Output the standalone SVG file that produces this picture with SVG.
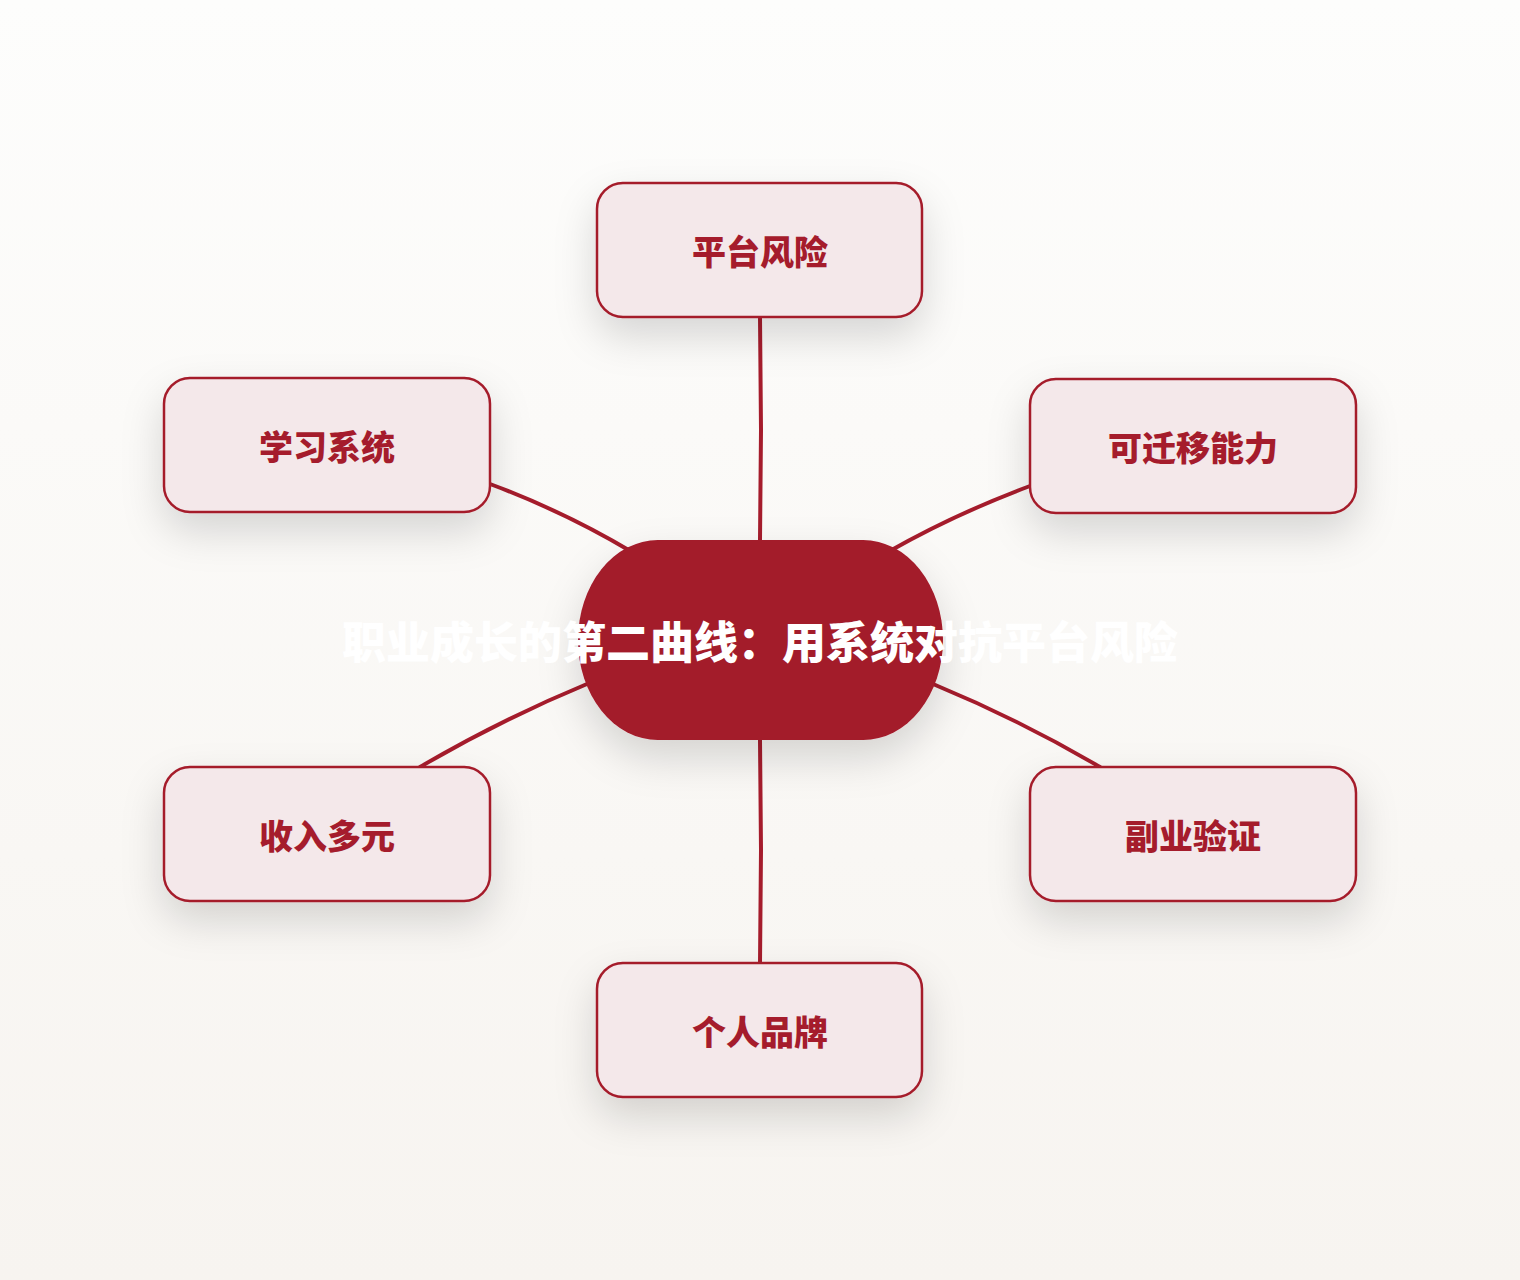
<svg xmlns="http://www.w3.org/2000/svg" width="1520" height="1280" viewBox="0 0 1520 1280">
<defs>
<linearGradient id="bg" x1="0" y1="0" x2="0" y2="1">
<stop offset="0" stop-color="#fdfdfc"/>
<stop offset="1" stop-color="#f7f4f0"/>
</linearGradient>
<filter id="sh" x="-40%" y="-40%" width="180%" height="200%">
<feDropShadow dx="0" dy="18" stdDeviation="20" flood-color="#000" flood-opacity="0.15"/>
</filter>
<style>
.node rect{fill:#f4e8ea;stroke:#a51c2c;stroke-width:2.5;filter:url(#sh)}
.node text{fill:#a51c2c;font-family:"Noto Sans CJK SC","Noto Sans",sans-serif;font-weight:900;font-size:34px;text-anchor:middle;dominant-baseline:central}
.edge{fill:none;stroke:#a51c2c;stroke-width:4;stroke-linecap:round}
</style>
</defs>
<rect width="1520" height="1280" fill="url(#bg)"/>
<g id="connectors">
<path class="edge" d="M760 317 L761 430 L760 540"/>
<path class="edge" d="M760 740 L761 850 L760 963"/>
<path class="edge" d="M490 484 Q565 512 632 552"/>
<path class="edge" d="M1030 486 Q955 514 888 552"/>
<path class="edge" d="M587 684 Q500 720 420 767"/>
<path class="edge" d="M933 684 Q1020 720 1100 767"/>
</g>
<g id="center">
<rect x="578" y="540" width="365" height="200" rx="80" ry="100" fill="#a31a2a" filter="url(#sh)"/>
<text x="760" y="640" fill="#ffffff" font-family="'Noto Sans CJK SC','Noto Sans',sans-serif" font-weight="900" font-size="44" text-anchor="middle" dominant-baseline="central">职业成长的第二曲线：用系统对抗平台风险</text>
</g>
<g id="n1" class="node"><rect x="597" y="183" width="325" height="134" rx="26"/><text x="760" y="250">平台风险</text></g>
<g id="n2" class="node"><rect x="1030" y="379" width="326" height="134" rx="26"/><text x="1193" y="446">可迁移能力</text></g>
<g id="n3" class="node"><rect x="1030" y="767" width="326" height="134" rx="26"/><text x="1193" y="834">副业验证</text></g>
<g id="n4" class="node"><rect x="597" y="963" width="325" height="134" rx="26"/><text x="760" y="1030">个人品牌</text></g>
<g id="n5" class="node"><rect x="164" y="767" width="326" height="134" rx="26"/><text x="327" y="834">收入多元</text></g>
<g id="n6" class="node"><rect x="164" y="378" width="326" height="134" rx="26"/><text x="327" y="445">学习系统</text></g>
</svg>
